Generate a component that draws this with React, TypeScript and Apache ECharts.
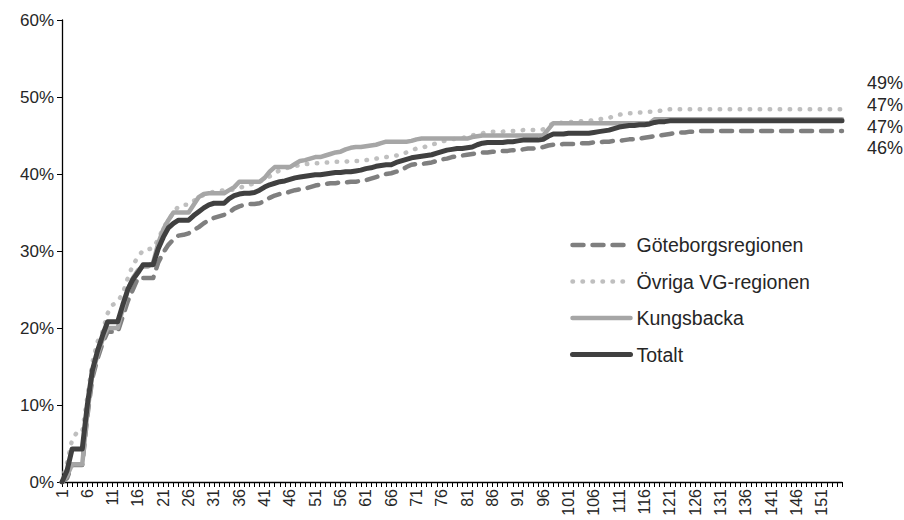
import React, { useEffect, useRef } from "react";
import * as echarts from "echarts";

const categories: string[] = Array.from({ length: 155 }, (_, i) => String(i + 1));

const goteborg: number[] = [
  0, 0.5, 2.2, 2.2, 2.2, 8.5, 13.5, 16, 18, 19.5,
  19.5, 19.5, 21.5, 23.5, 25, 26.5, 26.5, 26.5, 26.5, 28.5,
  29.8, 30.8, 31.5, 32, 32.1, 32.3, 32.7, 33.1, 33.6, 34,
  34.3, 34.5, 34.7, 35, 35.5, 35.8, 36, 36.1, 36.1, 36.2,
  36.5, 36.9, 37.2, 37.4, 37.5, 37.7, 37.9, 38, 38.1, 38.3,
  38.5, 38.6, 38.7, 38.8, 38.8, 38.9, 38.9, 39, 39, 39.1,
  39.2, 39.4, 39.6, 39.8, 40, 40.1, 40.3, 40.5, 40.9, 41.2,
  41.3, 41.3, 41.4, 41.5, 41.7, 41.9, 42, 42.2, 42.3, 42.4,
  42.5, 42.6, 42.7, 42.8, 42.8, 42.9, 42.9, 43, 43, 43.1,
  43.1, 43.2, 43.3, 43.3, 43.4, 43.5, 43.7, 43.8, 43.8, 43.9,
  43.9, 43.9, 44, 44, 44, 44.1, 44.1, 44.2, 44.2, 44.3,
  44.3, 44.4, 44.5, 44.5, 44.6, 44.7, 44.8, 44.9, 45, 45.1,
  45.2, 45.3, 45.4, 45.4, 45.5, 45.5, 45.6, 45.6, 45.6, 45.6,
  45.6, 45.6, 45.6, 45.6, 45.6, 45.6, 45.6, 45.6, 45.6, 45.6,
  45.6, 45.6, 45.6, 45.6, 45.6, 45.6, 45.6, 45.6, 45.6, 45.6,
  45.6, 45.6, 45.6, 45.6, 45.6,
];

const ovriga: number[] = [
  0, 2.5, 5.5, 6.5, 6.5, 11, 15.5, 18.2, 19.5, 21.9,
  23, 23.4, 24.5, 26.5, 28.2, 29.2, 30.1, 30.2, 30.4, 31.5,
  33, 34, 35, 35.8, 36, 36, 36.5, 37, 37.3, 37.5,
  37.7, 37.8, 37.9, 37.9, 38, 38.2, 38.4, 38.6, 38.8, 39,
  39.3, 39.7, 40.1, 40.5, 40.7, 40.9, 41, 41.2, 41.3, 41.3,
  41.4, 41.4, 41.5, 41.5, 41.6, 41.6, 41.6, 41.7, 41.7, 41.7,
  41.8, 41.9, 42, 42.1, 42.2, 42.3, 42.4, 42.5, 42.8, 43.1,
  43.3, 43.4, 43.6, 43.8, 44, 44.2, 44.4, 44.5, 44.6, 44.7,
  44.8, 45, 45.2, 45.3, 45.4, 45.5, 45.5, 45.5, 45.6, 45.6,
  45.6, 45.7, 45.7, 45.7, 45.7, 45.8, 46.2, 46.6, 46.6, 46.7,
  46.7, 46.8, 46.8, 46.9, 46.9, 47, 47.1, 47.2, 47.3, 47.5,
  47.7, 47.8, 47.9, 47.9, 48, 48, 48.1, 48.1, 48.2, 48.3,
  48.4, 48.4, 48.4, 48.4, 48.4, 48.4, 48.4, 48.4, 48.4, 48.4,
  48.4, 48.4, 48.4, 48.4, 48.4, 48.4, 48.4, 48.4, 48.4, 48.4,
  48.4, 48.4, 48.4, 48.4, 48.4, 48.4, 48.4, 48.4, 48.4, 48.4,
  48.4, 48.4, 48.4, 48.4, 48.4,
];

const kungsbacka: number[] = [
  0, 0.8, 2.3, 2.3, 2.3, 9, 14, 16.5, 18.5, 20,
  20, 20, 22.5, 25, 26.5, 27.5, 28, 28, 28.5, 31,
  32.8, 34, 35, 35, 35, 35, 36, 37, 37.4, 37.5,
  37.5, 37.5, 37.5, 37.9, 38.3, 39, 39, 39, 39, 39,
  39.5, 40.3, 40.9, 40.9, 40.9, 40.9, 41.3, 41.7, 41.8, 42,
  42.2, 42.2, 42.4, 42.6, 42.8, 42.9, 43.2, 43.4, 43.5, 43.5,
  43.6, 43.7, 43.8, 44, 44.2, 44.2, 44.2, 44.2, 44.2, 44.3,
  44.5, 44.6, 44.6, 44.6, 44.6, 44.6, 44.6, 44.6, 44.6, 44.6,
  44.6, 44.8, 44.9, 45, 45, 45, 45, 45, 45, 45,
  45, 45, 45, 45, 45, 45, 45.8, 46.6, 46.6, 46.6,
  46.6, 46.6, 46.6, 46.6, 46.6, 46.6, 46.6, 46.6, 46.6, 46.6,
  46.6, 46.6, 46.6, 46.6, 46.6, 46.6, 46.6, 47.1, 47.1, 47.1,
  47.1, 47.1, 47.1, 47.1, 47.1, 47.1, 47.1, 47.1, 47.1, 47.1,
  47.1, 47.1, 47.1, 47.1, 47.1, 47.1, 47.1, 47.1, 47.1, 47.1,
  47.1, 47.1, 47.1, 47.1, 47.1, 47.1, 47.1, 47.1, 47.1, 47.1,
  47.1, 47.1, 47.1, 47.1, 47.1,
];

const totalt: number[] = [
  0, 1.5, 4.3, 4.3, 4.3, 10, 14.5, 17, 19, 20.8,
  20.8, 20.8, 23, 25, 26.3, 27.2, 28.2, 28.2, 28.2, 30.3,
  31.8, 33, 33.6, 34, 34, 34, 34.6, 35.1, 35.6, 36,
  36.2, 36.2, 36.2, 36.8, 37.2, 37.4, 37.5, 37.5, 37.6, 37.9,
  38.3, 38.6, 38.8, 39, 39.1, 39.3, 39.5, 39.6, 39.7, 39.8,
  39.9, 39.9, 40, 40.1, 40.2, 40.2, 40.3, 40.3, 40.4, 40.5,
  40.7, 40.8, 41, 41.1, 41.2, 41.2, 41.5, 41.7, 41.9, 42.1,
  42.2, 42.3, 42.4, 42.5, 42.7, 42.9, 43.1, 43.2, 43.3, 43.3,
  43.4, 43.5, 43.8, 44, 44.1, 44.1, 44.1, 44.1, 44.2, 44.2,
  44.3, 44.4, 44.4, 44.4, 44.4, 44.5, 44.9, 45.2, 45.2, 45.2,
  45.3, 45.3, 45.3, 45.3, 45.3, 45.4, 45.5, 45.6, 45.7, 45.9,
  46.1, 46.2, 46.3, 46.3, 46.4, 46.4, 46.5, 46.7, 46.8, 46.8,
  46.9, 46.9, 46.9, 46.9, 46.9, 46.9, 46.9, 46.9, 46.9, 46.9,
  46.9, 46.9, 46.9, 46.9, 46.9, 46.9, 46.9, 46.9, 46.9, 46.9,
  46.9, 46.9, 46.9, 46.9, 46.9, 46.9, 46.9, 46.9, 46.9, 46.9,
  46.9, 46.9, 46.9, 46.9, 46.9,
];

const endLabels: string[] = ["49%", "47%", "47%", "46%"];
const seriesNames: string[] = ["Göteborgsregionen", "Övriga VG-regionen", "Kungsbacka", "Totalt"];
const seriesColors: string[] = ["#7f7f7f", "#bfbfbf", "#a6a6a6", "#404040"];
const seriesDash: (number[] | "solid")[] = [[11, 9], [0.5, 9.5], "solid", "solid"];
const seriesWidth: number[] = [4.5, 4.5, 4.5, 5];

const FONT = "'Liberation Sans', Arial, sans-serif";
const TEXT = "#262626";

export default function App() {
  const ref = useRef<HTMLDivElement>(null);
  useEffect(() => {
    if (!ref.current) return;
    const chart = echarts.init(ref.current, undefined, { renderer: "svg" });
    const endLabelY = [83, 105, 127, 148];
    const dataSets = [goteborg, ovriga, kungsbacka, totalt];
    chart.setOption({
      animation: false,
      backgroundColor: "#ffffff",
      textStyle: { fontFamily: FONT },
      grid: { left: 62, right: 62, top: 20, bottom: 38, containLabel: false },
      legend: {
        orient: "vertical",
        left: 570,
        top: 235,
        padding: 0,
        itemWidth: 58,
        itemHeight: 14,
        itemGap: 16.5,
        itemStyle: { opacity: 0 },
        textStyle: { fontSize: 19.5, color: TEXT, fontFamily: FONT, padding: [0, 0, 0, 1] },
        data: seriesNames.map((n, i) => ({
          name: n,
          lineStyle: {
            color: seriesColors[i],
            width: seriesWidth[i],
            type: seriesDash[i],
            cap: "round",
          },
        })),
      },
      xAxis: {
        type: "category",
        data: categories,
        boundaryGap: false,
        axisLine: { lineStyle: { color: "#000", width: 1.3 } },
        axisTick: { show: true, interval: 0, length: 5, lineStyle: { color: "#000" } },
        axisLabel: { interval: 4, rotate: 90, fontSize: 16, color: TEXT, margin: 7, fontFamily: FONT },
        splitLine: { show: false },
      },
      yAxis: {
        type: "value",
        min: 0,
        max: 60,
        interval: 10,
        axisLine: { show: true, lineStyle: { color: "#000", width: 1.3 } },
        axisTick: { show: true, length: 5, lineStyle: { color: "#000" } },
        axisLabel: { formatter: "{value}%", fontSize: 17, color: TEXT, margin: 8, fontFamily: FONT },
        splitLine: { show: false },
      },
      series: seriesNames.map((n, i) => ({
        name: n,
        type: "line",
        data: dataSets[i],
        symbol: "none",
        lineStyle: {
          color: seriesColors[i],
          width: seriesWidth[i],
          type: seriesDash[i],
          cap: "round",
          join: "round",
        },
        itemStyle: { color: seriesColors[i] },
      })),
      graphic: endLabels.map((t, i) => ({
        type: "text",
        right: 1,
        top: endLabelY[i] - 9,
        style: { text: t, fontSize: 18, fill: TEXT, fontFamily: FONT },
      })),
    });
    return () => chart.dispose();
  }, []);
  return (
    <div
      ref={ref}
      style={{ position: "fixed", left: 0, top: 0, width: 904, height: 520 }}
    />
  );
}
